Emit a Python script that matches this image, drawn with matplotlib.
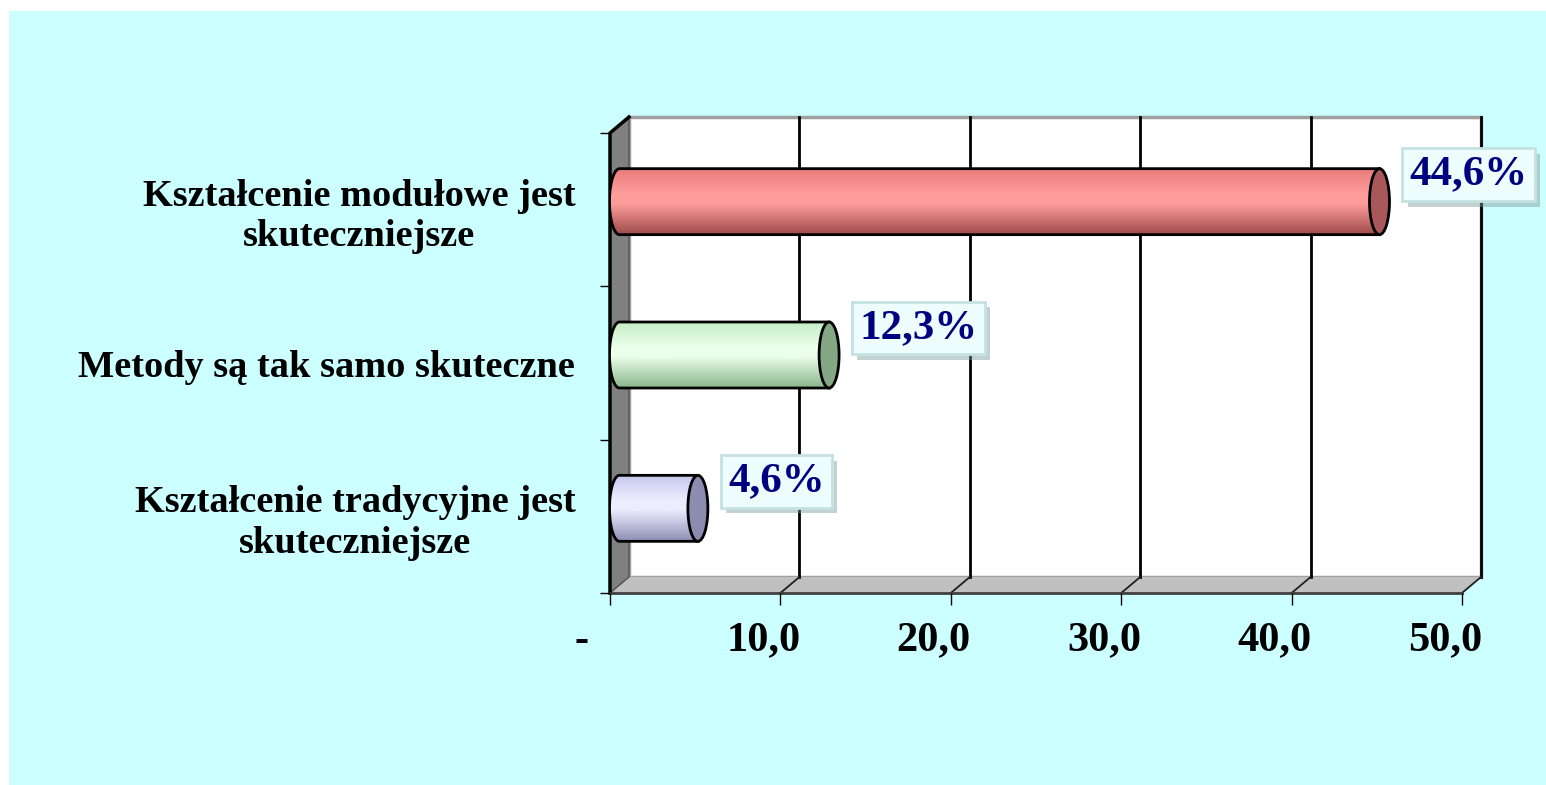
import numpy as np
import matplotlib
matplotlib.use('Agg')
import matplotlib.pyplot as plt
import matplotlib.transforms as mtransforms
import matplotlib.patheffects as pe
from matplotlib.patches import Rectangle, Polygon, Ellipse
from matplotlib.colors import to_rgb

# data, bottom to top
categories = ['Kształcenie tradycyjne jest\nskuteczniejsze',
              'Metody są tak samo skuteczne',
              'Kształcenie modułowe jest\nskuteczniejsze']
values = [4.6, 12.3, 44.6]
value_labels = ['4,6%', '12,3%', '44,6%']
x_ticks = [0, 10, 20, 30, 40, 50]
x_tick_labels = ['-  ', '10,0', '20,0', '30,0', '40,0', '50,0']

# cylinder shading: light band, base, shadow, end cap
bar_light = ['#ededff', '#ebffeb', '#ff9d9d']
bar_base = ['#c6c6ee', '#c6eec6', '#ea7c7c']
bar_dark = ['#8e8eb6', '#8ab68a', '#9c4a4a']
cap_colors = ['#8c8cb0', '#84a884', '#a85858']

W, H = 1546, 785
fig = plt.figure(figsize=(W / 100, H / 100), dpi=100)
fig.patch.set_facecolor('white')
fig.patches.append(Rectangle((9 / W, 0), 1, (H - 11) / H, transform=fig.transFigure,
                             facecolor='#ccffff', edgecolor='none', zorder=-10))

ax = fig.add_axes([610 / W, (H - 593) / H, 852 / W, 460 / H])
ax.set_xlim(0, 50)
ax.set_ylim(-0.5, 2.5)
ax.patch.set_visible(False)
for s in ax.spines.values():
    s.set_visible(False)

# depth offset of the 3d box, in data units
px_x = 50 / 852
px_y = 3 / 460
DX = 19 * px_x
DY = 16 * px_y
y0, y1 = -0.5, 2.5

# back wall
ax.add_patch(Rectangle((DX, y0 + DY), 50, 3, facecolor='white', edgecolor='#a0a0a0',
                       lw=2.5, zorder=0.5, clip_on=False))
# floor
ax.add_patch(Polygon([(0, y0), (50, y0), (50 + DX, y0 + DY), (DX, y0 + DY)],
                     closed=True, facecolor='#c0c0c0', edgecolor='none', zorder=0.8, clip_on=False))
# side wall
ax.add_patch(Polygon([(0, y0), (0, y1), (DX, y1 + DY), (DX, y0 + DY)],
                     closed=True, facecolor='#808080', edgecolor='#505050', lw=1, zorder=1.2, clip_on=False))
ax.plot([0, 0, DX], [y0, y1, y1 + DY], color='black', lw=2.5, zorder=1.3, clip_on=False)

# grid lines on back wall and floor
for xv in x_ticks[1:]:
    ax.plot([xv + DX, xv + DX], [y0 + DY, y1 + DY], color='black', lw=2, zorder=1, clip_on=False)
    ax.plot([xv, xv + DX], [y0, y0 + DY], color='#202020', lw=1.3, zorder=1, clip_on=False)
ax.plot([0, 50], [y0, y0], color='#404040', lw=2, zorder=1.3, clip_on=False)

# cylinders
h = 33 * px_y
a = 10 * px_x
t = np.linspace(0, 1, 200)
knots = [0, 0.38, 0.52, 1]
for i, v in enumerate(values):
    yc = i + DY / 2
    xs = DX / 2
    xe = v + DX / 2
    th = np.linspace(np.pi / 2, 3 * np.pi / 2, 60)
    arc = np.column_stack([xs + a * np.cos(th), yc + h * np.sin(th)])
    verts = np.vstack([[xe, yc + h], arc, [xe, yc - h]])
    body = Polygon(verts, closed=True, facecolor='none', edgecolor='black', lw=2, zorder=4)
    ax.add_patch(body)
    cols = [to_rgb(bar_base[i]), to_rgb(bar_light[i]), to_rgb(bar_light[i]), to_rgb(bar_dark[i])]
    grad = np.stack([np.interp(t, knots, [c[k] for c in cols]) for k in range(3)], axis=-1)
    im = ax.imshow(grad[:, None, :], extent=[xs - a, xe, yc - h, yc + h], origin='upper',
                   aspect='auto', interpolation='bilinear', zorder=3)
    im.set_clip_path(body)
    ax.add_patch(Ellipse((xe, yc), 2 * a, 2 * h, facecolor=cap_colors[i], edgecolor='black',
                         lw=2, zorder=5))
    ann = ax.annotate(value_labels[i], xy=(xe + a, yc), xytext=(20, 27), textcoords='offset pixels',
                      ha='left', va='center', fontsize=31, fontweight='bold',
                      family='Liberation Serif', color='#000080', zorder=7,
                      bbox=dict(boxstyle='square,pad=0.17', fc='#eefdfd', ec='#c4e2e2', lw=2))
    ann.get_bbox_patch().set_path_effects([
        pe.SimplePatchShadow(offset=(4, -4), shadow_rgbFace='#7a9a9a', alpha=0.45), pe.Normal()])

ax.set_xlim(0, 50)
ax.set_ylim(-0.5, 2.5)

# ticks
ax.set_xticks(x_ticks, x_tick_labels)
ax.tick_params(axis='x', direction='out', length=8.6, width=1, pad=12, labelsize=30.5)
shift = mtransforms.ScaledTranslation(-17 / 100, 0, fig.dpi_scale_trans)
for lbl in ax.get_xticklabels():
    lbl.set_family('Liberation Serif')
    lbl.set_fontweight('bold')
    lbl.set_transform(lbl.get_transform() + shift)

ax.set_yticks([-0.5, 0.5, 1.5, 2.5], ['', '', '', ''])
ax.tick_params(axis='y', which='major', direction='out', length=7.2, width=1)
ax.set_yticks([0, 1, 2], categories, minor=True)
ax.tick_params(axis='y', which='minor', length=0, pad=25, labelsize=27.6)
for lbl in ax.get_yticklabels(minor=True):
    lbl.set_family('Liberation Serif')
    lbl.set_fontweight('bold')
    lbl.set_multialignment('center')

fig.savefig('out.png', dpi=100)
